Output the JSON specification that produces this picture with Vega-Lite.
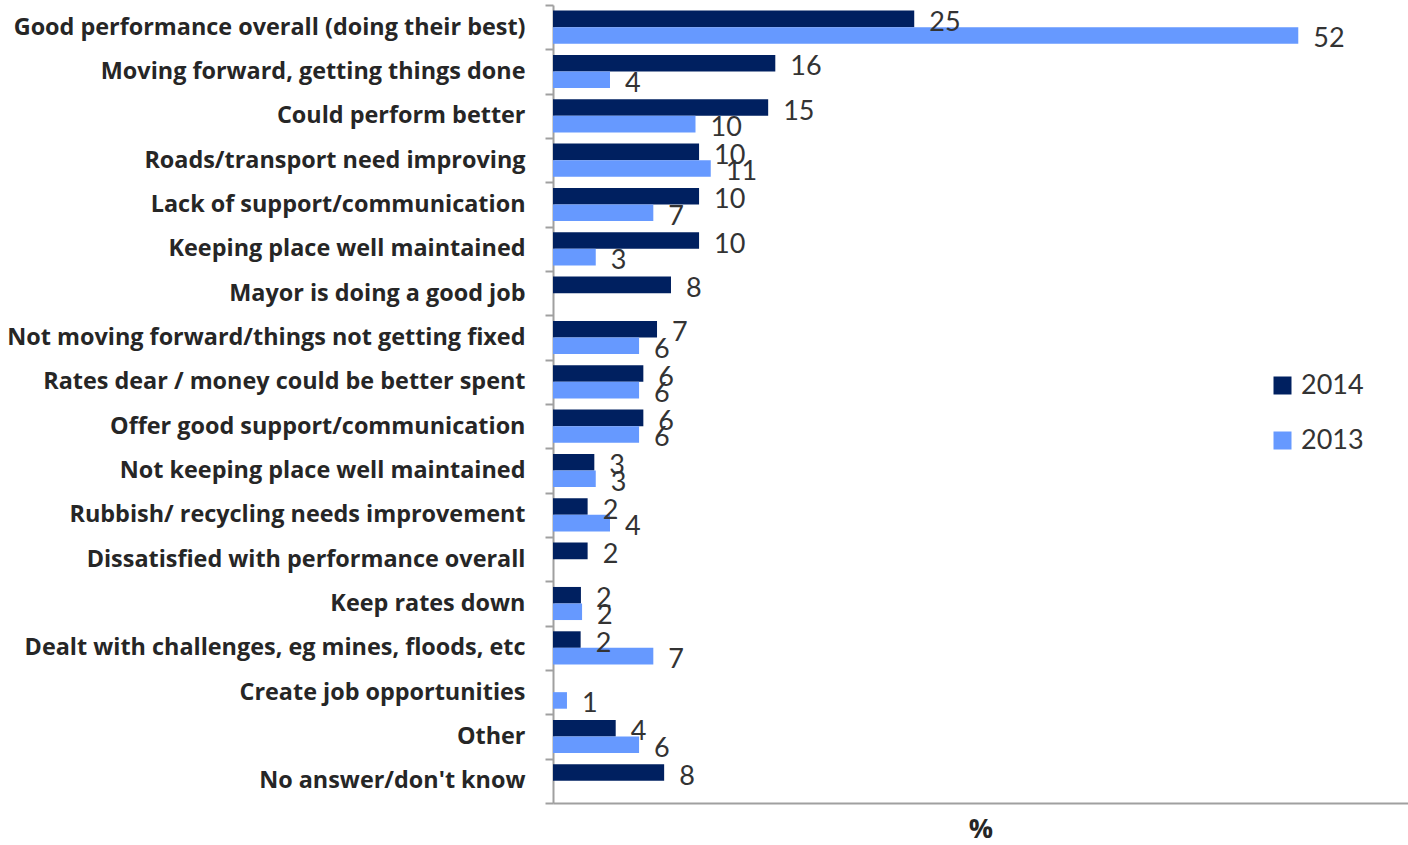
{
  "$schema": "https://vega.github.io/schema/vega-lite/v6.json",
  "width": 855,
  "height": 798,
  "autosize": {"type": "none"},
  "padding": {"left": 553, "top": 5, "right": 0, "bottom": 42},
  "config": {"view": {"stroke": null}, "font": "Lato"},
  "data": {
    "values": [
      {"category": "Good performance overall (doing their best)", "year": "2014", "value": 25.35},
      {"category": "Good performance overall (doing their best)", "year": "2013", "value": 52.3},
      {"category": "Moving forward, getting things done", "year": "2014", "value": 15.6},
      {"category": "Moving forward, getting things done", "year": "2013", "value": 4.0},
      {"category": "Could perform better", "year": "2014", "value": 15.1},
      {"category": "Could perform better", "year": "2013", "value": 10.0},
      {"category": "Roads/transport need improving", "year": "2014", "value": 10.25},
      {"category": "Roads/transport need improving", "year": "2013", "value": 11.07},
      {"category": "Lack of support/communication", "year": "2014", "value": 10.25},
      {"category": "Lack of support/communication", "year": "2013", "value": 7.04},
      {"category": "Keeping place well maintained", "year": "2014", "value": 10.25},
      {"category": "Keeping place well maintained", "year": "2013", "value": 3.0},
      {"category": "Mayor is doing a good job", "year": "2014", "value": 8.28},
      {"category": "Not moving forward/things not getting fixed", "year": "2014", "value": 7.3},
      {"category": "Not moving forward/things not getting fixed", "year": "2013", "value": 6.04},
      {"category": "Rates dear / money could be better spent", "year": "2014", "value": 6.34},
      {"category": "Rates dear / money could be better spent", "year": "2013", "value": 6.04},
      {"category": "Offer good support/communication", "year": "2014", "value": 6.34},
      {"category": "Offer good support/communication", "year": "2013", "value": 6.04},
      {"category": "Not keeping place well maintained", "year": "2014", "value": 2.9},
      {"category": "Not keeping place well maintained", "year": "2013", "value": 3.0},
      {"category": "Rubbish/ recycling needs improvement", "year": "2014", "value": 2.43},
      {"category": "Rubbish/ recycling needs improvement", "year": "2013", "value": 4.0},
      {"category": "Dissatisfied with performance overall", "year": "2014", "value": 2.43},
      {"category": "Keep rates down", "year": "2014", "value": 1.96},
      {"category": "Keep rates down", "year": "2013", "value": 2.04},
      {"category": "Dealt with challenges, eg mines, floods, etc", "year": "2014", "value": 1.94},
      {"category": "Dealt with challenges, eg mines, floods, etc", "year": "2013", "value": 7.04},
      {"category": "Create job opportunities", "year": "2013", "value": 0.98},
      {"category": "Other", "year": "2014", "value": 4.4},
      {"category": "Other", "year": "2013", "value": 6.04},
      {"category": "No answer/don't know", "year": "2014", "value": 7.8}
    ]
  },
  "encoding": {
    "y": {
      "field": "category",
      "type": "nominal",
      "sort": [
        "Good performance overall (doing their best)",
        "Moving forward, getting things done",
        "Could perform better",
        "Roads/transport need improving",
        "Lack of support/communication",
        "Keeping place well maintained",
        "Mayor is doing a good job",
        "Not moving forward/things not getting fixed",
        "Rates dear / money could be better spent",
        "Offer good support/communication",
        "Not keeping place well maintained",
        "Rubbish/ recycling needs improvement",
        "Dissatisfied with performance overall",
        "Keep rates down",
        "Dealt with challenges, eg mines, floods, etc",
        "Create job opportunities",
        "Other",
        "No answer/don't know"
      ],
      "scale": {"paddingInner": 0, "paddingOuter": 0},
      "axis": {
        "title": null,
        "tickBand": "extent",
        "domainColor": "#a0a0a0",
        "domainWidth": 2,
        "tickColor": "#a0a0a0",
        "tickWidth": 2,
        "tickSize": 8,
        "labelFont": "Open Sans",
        "labelFontSize": 23.4,
        "labelFontWeight": "bold",
        "labelColor": "#262626",
        "labelPadding": 20,
        "labelLimit": 600
      }
    },
    "yOffset": {
      "field": "year",
      "type": "nominal",
      "sort": ["2014", "2013"],
      "scale": {"paddingInner": 0, "paddingOuter": 0.34}
    },
    "x": {
      "field": "value",
      "type": "quantitative",
      "scale": {"domain": [0, 60]},
      "axis": {
        "labels": false,
        "ticks": false,
        "grid": false,
        "domainColor": "#a0a0a0",
        "domainWidth": 2,
        "title": "%",
        "titleFont": "Open Sans",
        "titleFontSize": 27,
        "titleFontWeight": "bold",
        "titleColor": "#262626",
        "titlePadding": 13
      }
    }
  },
  "layer": [
    {
      "mark": {"type": "bar"},
      "encoding": {
        "color": {
          "field": "year",
          "type": "nominal",
          "scale": {"domain": ["2014", "2013"], "range": ["#002060", "#6699FF"]},
          "legend": {
            "title": null,
            "orient": "none",
            "legendX": 716,
            "legendY": 367,
            "symbolType": "square",
            "symbolSize": 324,
            "symbolStrokeWidth": 0,
            "labelFontSize": 27,
            "labelColor": "#333333",
            "labelOffset": 5,
            "rowPadding": 27,
            "padding": 0
          }
        }
      }
    },
    {
      "mark": {"type": "text", "align": "left", "baseline": "middle", "dx": 15, "dy": 4, "fontSize": 27, "color": "#333333"},
      "encoding": {
        "text": {"field": "value", "type": "quantitative", "format": ".0f"}
      }
    }
  ]
}
